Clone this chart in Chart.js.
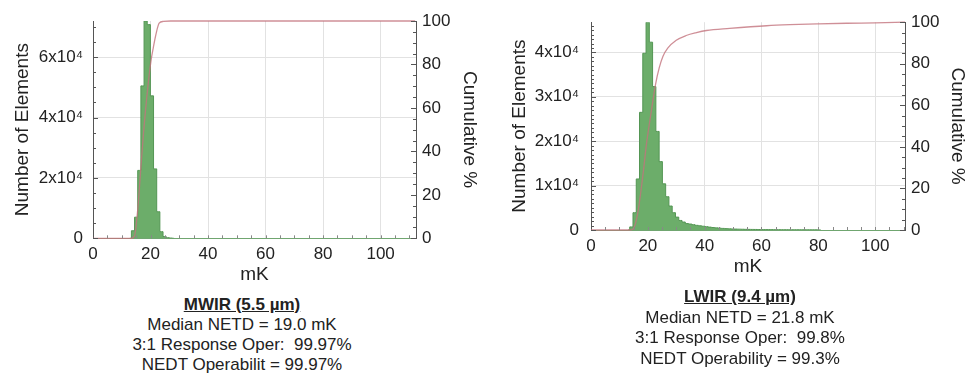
<!DOCTYPE html>
<html>
<head>
<meta charset="utf-8">
<script src="https://cdn.jsdelivr.net/npm/chart.js@4.4.1/dist/chart.umd.min.js"></script>
<style>
  body { margin: 0; background: #fff; font-family: "Liberation Sans", Arial, sans-serif; color: #222; }
  .wrap { position: absolute; top: 0; height: 290px; }
  .info { position: absolute; width: 300px; text-align: center; font-size: 17px; }
  .info div { line-height: 20px; white-space: pre; }
</style>
</head>
<body>
<div class="wrap" style="left:0;width:490px"><canvas id="mwirChart"></canvas></div>
<div class="wrap" style="left:490px;width:479px"><canvas id="lwirChart"></canvas></div>

<div class="info" style="left:92px;top:295px">
  <div><b><u>MWIR (5.5 µm)</u></b></div>
  <div>Median NETD = 19.0 mK</div>
  <div>3:1 Response Oper:  99.97%</div>
  <div>NEDT Operabilit = 99.97%</div>
</div>
<div class="info" style="left:590px;top:287px">
  <div style="line-height:20.5px"><b><u>LWIR (9.4 µm)</u></b></div>
  <div style="line-height:20.5px">Median NETD = 21.8 mK</div>
  <div style="line-height:20.5px">3:1 Response Oper:  99.8%</div>
  <div style="line-height:20.5px">NEDT Operability = 99.3%</div>
</div>

<script>
// MWIR histogram (mK bin centres / number of elements), empty bin at each end
const mwirBins = [12.8, 13.9, 15.0, 16.1, 17.2, 18.3, 19.4, 20.5, 21.6, 22.7, 23.8, 24.9, 26.0, 27.1, 28.2];
const mwirCounts = [0, 2500, 7000, 22500, 50500, 72000, 70800, 47200, 23000, 8800, 2200, 600, 200, 80, 0];
// MWIR cumulative %
const mwirCumX = [0, 13.2, 14.4, 15.6, 16.5, 17.6, 19.1, 20.2, 21.0, 21.9, 23.0, 24.5, 27, 112];
const mwirCumY = [0, 0, 1, 14, 30, 49, 70, 82, 88, 94, 99, 99.8, 100, 100];
const mwirCountTicks = [0, 20000, 40000, 60000];

// LWIR histogram
const lwirBins = [13.05, 14.2, 15.35, 16.5, 17.65, 18.8, 19.95, 21.1, 22.25, 23.4, 24.55, 25.7, 26.85, 28.0, 29.15,
  30.3, 31.45, 32.6, 33.75, 34.9, 36.05, 37.2, 38.35, 39.5, 40.65, 41.8, 42.95, 44.1, 45.25, 46.4, 47.55,
  48.7, 49.85, 51.0, 52.15, 53.3, 54.45, 55.6, 56.75, 57.9, 59.05, 60.2, 61.35, 62.5, 63.65, 64.8, 65.95,
  67.1, 68.25, 69.4, 70.55, 71.7, 72.85, 74.0, 75.15, 76.3, 77.45, 78.6, 79.75, 80.9];
const lwirCounts = [0, 700, 3900, 11500, 26500, 39800, 46800, 42300, 32300, 22200, 15400, 10400, 7500, 5400, 3900,
  2900, 2150, 1800, 1450, 1350, 1200, 1050, 950, 850, 750, 650, 560, 480, 420, 360, 310,
  270, 240, 210, 190, 170, 150, 140, 130, 120, 110, 100, 95, 90, 85, 80, 75,
  70, 68, 65, 62, 60, 58, 55, 52, 50, 48, 45, 40, 0];
// LWIR cumulative %
const lwirCumX = [0, 13.5, 14.7, 16, 17, 18.5, 19.4, 20.2, 21.2, 22.7, 24, 25.3, 27, 30, 33.5, 37.1, 40.6, 48.8, 61.8, 70, 80, 90, 100, 110.5];
const lwirCumY = [0, 0, 0.3, 5, 13, 29, 40, 48, 57, 70, 78, 83.5, 87.5, 91.3, 93.6, 95, 96, 97, 98.3, 98.8, 99.2, 99.5, 99.7, 100];
const lwirCountTicks = [0, 10000, 20000, 30000, 40000];

const xTicks = [0, 20, 40, 60, 80, 100];
const cumTicks = [0, 20, 40, 60, 80, 100];

Chart.defaults.font.family = '"Liberation Sans", Arial, sans-serif';
Chart.defaults.color = '#222';

// small inward tick marks on the axes
const minorTicks = {
  id: 'minorTicks',
  afterDraw(chart, args, o) {
    const ctx = chart.ctx, a = chart.chartArea;
    const x = chart.scales.x, y = chart.scales.y, y2 = chart.scales.y2;
    ctx.save();
    ctx.strokeStyle = '#555';
    ctx.lineWidth = 1;
    ctx.beginPath();
    for (let v = 0; v <= y.max; v += o.yMinor) {
      const p = Math.round(y.getPixelForValue(v)) + 0.5;
      const len = v % o.yMajor === 0 ? 5 : 3;
      ctx.moveTo(a.left, p); ctx.lineTo(a.left + len, p);
    }
    for (let v = 0; v <= 100; v += 5) {
      const p = Math.round(y2.getPixelForValue(v)) + 0.5;
      const len = v % 20 === 0 ? 5 : 3;
      ctx.moveTo(a.right, p); ctx.lineTo(a.right - len, p);
    }
    ctx.stroke();
    ctx.strokeStyle = '#888';
    ctx.beginPath();
    for (let v = 5; v < x.max; v += 5) {
      const p = Math.round(x.getPixelForValue(v)) + 0.5;
      ctx.moveTo(p, a.bottom); ctx.lineTo(p, a.bottom - 3);
    }
    ctx.stroke();
    ctx.restore();
  }
};

function crearGrafico(id, c) {
  const ctx = document.getElementById(id).getContext('2d');
  return new Chart(ctx, {
    type: 'line',
    data: {
      datasets: [{
        // cumulative curve
        data: c.cumX.map((v, i) => ({ x: v, y: c.cumY[i] })),
        yAxisID: 'y2',
        borderColor: 'rgba(195,115,125,0.8)',
        borderWidth: 1.3,
        pointRadius: 0,
        cubicInterpolationMode: 'monotone',
        clip: 3,
        order: 0
      }, {
        // histogram drawn as filled steps
        data: c.bins.map((v, i) => ({ x: v, y: c.counts[i] })),
        yAxisID: 'y',
        stepped: 'middle',
        fill: 'origin',
        backgroundColor: 'rgb(108,173,106)',
        borderColor: 'rgb(84,150,84)',
        borderWidth: 1,
        pointRadius: 0,
        order: 1
      }]
    },
    options: {
      responsive: true,
      maintainAspectRatio: false,
      animation: false,
      layout: { padding: { top: c.top, left: 0, right: 0, bottom: 0 } },
      plugins: {
        legend: { display: false },
        tooltip: { enabled: false },
        minorTicks: { yMinor: c.yMinor, yMajor: c.yStep }
      },
      scales: {
        x: {
          type: 'linear',
          min: 0,
          max: c.xMax,
          afterBuildTicks: s => { s.ticks = xTicks.map(v => ({ value: v })); },
          ticks: { font: { size: 17 }, padding: 6, maxRotation: 0 },
          grid: { color: '#e2e2e2', drawTicks: false },
          border: { color: 'rgba(100,160,100,0.9)' },
          title: { display: true, text: 'mK', font: { size: 19 }, padding: { top: 0, bottom: c.xTitlePad } },
          afterFit: s => { s.height = c.xAxisH; }
        },
        y: {
          position: 'left',
          min: 0,
          max: c.yMax,
          afterBuildTicks: s => { s.ticks = c.countTicks.map(v => ({ value: v })); },
          ticks: {
            font: { size: 17 },
            padding: c.yTickPad,
            callback: v => v === 0 ? '0' : (v / 10000) + 'x10⁴'
          },
          grid: { color: '#e2e2e2', drawTicks: false },
          border: { color: '#555' },
          title: { display: true, text: 'Number of Elements', font: { size: 19 }, padding: { top: c.yTitlePad, bottom: 0 } },
          afterFit: s => { s.width = c.leftW; }
        },
        y2: {
          position: 'right',
          min: 0,
          max: 100,
          afterBuildTicks: s => { s.ticks = cumTicks.map(v => ({ value: v })); },
          ticks: { font: { size: 17 }, padding: 6 },
          grid: { drawOnChartArea: false, drawTicks: false },
          border: { color: '#555' },
          title: { display: true, text: 'Cumulative %', font: { size: 19 }, padding: { top: c.y2TitlePad, bottom: 0 } },
          afterFit: s => { s.width = c.rightW; }
        }
      }
    },
    plugins: [minorTicks]
  });
}

crearGrafico('mwirChart', {
  bins: mwirBins, counts: mwirCounts, cumX: mwirCumX, cumY: mwirCumY, countTicks: mwirCountTicks,
  xMax: 112.3, yMax: 72000, yStep: 20000, yMinor: 5000,
  top: 21, leftW: 93, rightW: 74, xAxisH: 51.7,
  yTickPad: 10, yTitlePad: 11.6, y2TitlePad: 9.6, xTitlePad: 3.6
});

crearGrafico('lwirChart', {
  bins: lwirBins, counts: lwirCounts, cumX: lwirCumX, cumY: lwirCumY, countTicks: lwirCountTicks,
  xMax: 110.5, yMax: 46800, yStep: 10000, yMinor: 1000,
  top: 13, leftW: 101, rightW: 64, xAxisH: 60,
  yTickPad: 12, yTitlePad: 18.3, y2TitlePad: 0, xTitlePad: 11.6
});
</script>
</body>
</html>
